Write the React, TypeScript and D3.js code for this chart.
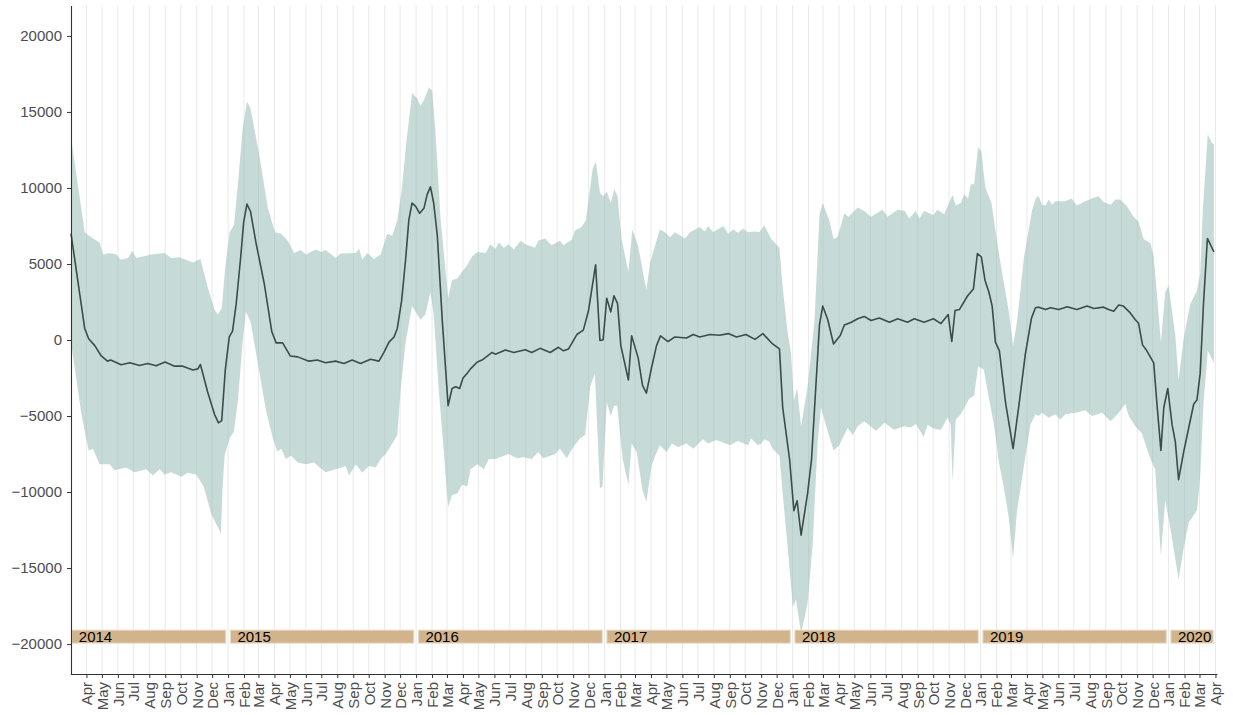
import * as React from 'react'
import * as d3 from 'd3'

// weekly series, x = weeks since 2014-03-02, y = value
const START = new Date(2014, 2, 2)
const END = new Date(2020, 3, 4)

const meanPts: [number, number][] = [
  [0, 7000], [3.8, 760], [4.9, 80], [6.6, -370], [8.4, -1050], [10.1, -1390], [11, -1320], [13.9, -1630], [16.3, -1500],
  [19, -1680], [21.3, -1540], [23.6, -1700], [26.1, -1450], [28.7, -1720], [31, -1720], [33.8, -1970], [35.2, -1900],
  [35.9, -1610], [37.9, -3420], [39.8, -4890], [40.9, -5450], [41.8, -5300], [42.8, -1950], [43.9, 200], [44.8, 580],
  [45.8, 2340], [47, 5280], [47.9, 7770], [48.8, 8940], [49.8, 8450], [51.3, 6410], [53.6, 3700], [55.7, 540],
  [56.9, -190], [58.7, -190], [60.8, -1050], [62.9, -1110],
  [66, -1390], [68.3, -1320], [70.6, -1500], [73.4, -1390], [75.7, -1540], [78, -1320], [80.3, -1540], [83.1, -1270],
  [85.4, -1390], [86.8, -820], [88.2, -140], [89.6, 200], [90.5, 760], [91.7, 2570], [92.8, 5280], [93.7, 7880],
  [94.6, 9010], [95.6, 8790], [96.7, 8330], [97.9, 8670], [98.8, 9580], [99.7, 10070], [100.6, 9010], [101.6, 6860],
  [103, 1210], [104.6, -4320], [105.7, -3190], [106.7, -3080], [107.8, -3190], [108.7, -2520], [109.9, -2180],
  [110.8, -1900], [112.7, -1450], [114, -1320], [116.8, -820], [117.7, -930], [120.5, -660], [122.8, -820], [126, -640],
  [127.8, -820], [130.1, -550], [132.9, -820], [135.2, -480], [136.6, -710], [138, -590], [140.3, 360], [142.1, 650],
  [143.5, 1890], [145.5, 4940], [146.7, -30], [147.6, 20], [148.6, 2750], [149.7, 1850], [150.6, 2910], [151.6, 2390],
  [152.5, -370], [154.6, -2630], [155.5, 270], [157.3, -1160], [158.5, -2970], [159.6, -3490], [161, -1840],
  [162.4, -370], [163.5, 270], [165.6, -100], [167.5, 200], [170.7, 130], [172.6, 360], [174.4, 200], [177.2, 360],
  [179.9, 310], [182.3, 420], [184.6, 200], [187.2, 360], [189.7, 40],
  [191.9, 420], [194.6, -260], [196.5, -590], [197.4, -4440], [199.3, -7830], [200.5, -11220], [201.4, -10580],
  [202.5, -12840], [204.3, -10090], [205.4, -7830], [207.6, 990], [208.5, 2230], [209.9, 1330], [211.5, -260],
  [213.4, 310], [214.5, 990], [216.3, 1150], [218.2, 1400], [220, 1550], [221.9, 1280], [224.2, 1440], [227, 1170],
  [229.3, 1400], [232, 1170], [233.9, 1400], [236.6, 1170], [239.2, 1400], [241.3, 1080], [243.3, 1670], [244.3, -100],
  [245.2, 1940], [246.4, 2000], [248.7, 2910], [250.3, 3360], [251.4, 5690], [252.5, 5460],
  [253.5, 3930], [254.6, 3140], [255.5, 2230], [256.4, -140], [257.5, -710], [259.2, -4100], [261.3, -7150],
  [262.9, -4320], [264.7, -930], [266.4, 1440], [267.5, 2120], [268.4, 2160], [270.3, 2000], [271.7, 2120], [274, 2000],
  [276.3, 2190], [279, 2000], [281.8, 2230], [283.7, 2070], [286.4, 2160], [287.8, 2000], [289.2, 1890], [290.6, 2300],
  [291.9, 2230], [293.8, 1780], [295.2, 1330], [296.1, 1100], [297.2, -320], [298.4, -710], [300.3, -1500],
  [301.2, -4210], [302.3, -7260], [303.1, -4440], [304.2, -3190], [305.4, -5570], [306.3, -6700], [307.2, -9180],
  [308.6, -7370], [310, -5790], [311.4, -4210], [312.3, -3940], [313.2, -2180], [314.1, 2340], [315.2, 6680], [317, 5800],
]

const upperPts: [number, number][] = [
  [0, 13300], [3.8, 7090], [5.2, 6820], [7.9, 6410], [8.9, 5620], [10.7, 5730], [12.6, 5620], [13.8, 5280], [15.8, 5400],
  [17, 5850], [18.1, 5400], [22.3, 5620], [25.9, 5730], [27.8, 5400], [30.1, 5440], [33.8, 5100], [35.9, 5330],
  [37.9, 3470], [39.8, 2000], [40.7, 1670], [41.8, 2070], [42.8, 4830], [44, 7090], [45.2, 7540], [46.3, 10250],
  [47.6, 13870], [48.8, 15680], [49.8, 15230], [52.3, 12060], [54.6, 8670], [56.6, 7090], [58.3, 6980], [60.1, 6530],
  [61.9, 5730],
  [63.7, 5920], [65.1, 5620], [67.9, 5960], [69.3, 5780], [70.6, 5920], [73.4, 5400], [74.8, 5690], [79, 5730],
  [79.9, 6000], [80.8, 5280], [82.2, 5730], [84, 5330], [85.9, 5620], [87.7, 6980], [89.1, 6860], [90.5, 7880],
  [91.7, 9800], [93, 12970], [94.6, 16240], [96, 15900], [96.9, 15410], [97.9, 15790], [99.3, 16630], [100.2, 16360],
  [101.1, 13640], [102.5, 7990], [104.6, 2800], [105.7, 3930], [107.1, 4040], [108.5, 4490], [109.9, 4940],
  [111.3, 5510], [112.7, 5780], [115, 5730], [116.3, 6300], [117.7, 6000], [118.7, 6410], [120, 6070], [121.4, 6300],
  [122.8, 5960], [124.7, 6530],
  [126, 6300], [127.3, 6190], [128.7, 6070], [129.6, 6530], [131.5, 6680], [133.3, 6230], [135.6, 6530], [136.6, 6230],
  [138.9, 6590], [139.8, 7200], [141.6, 7430], [142.8, 7880], [144.7, 11270], [145.6, 11720], [146.7, 9690],
  [147.6, 9460], [148.6, 9760], [149.7, 9010], [150.7, 9920], [151.6, 9460], [152.7, 6640], [154.6, 4490],
  [155.7, 7270], [157.3, 6190], [158.7, 4380], [159.6, 3290], [160.6, 5060], [163.3, 7270], [164.7, 7090],
  [166.1, 6750], [167.5, 7090], [170.3, 6680], [171.7, 7090], [174.4, 7430], [175.8, 7140], [176.7, 7500],
  [178.1, 7090], [180.9, 7500], [182.3, 6980], [183.7, 7270], [185, 7050], [186.4, 7320], [187.8, 7090], [189.7, 7140],
  [190.9, 7090], [192.3, 7540], [194.2, 6640], [196.5, 6070], [197.4, 3470], [198.8, 420], [199.7, -820],
  [200.5, -3980], [201.4, -3190], [202.5, -5680], [204.3, -3080], [206.2, 1210], [207.6, 8220], [208.5, 9010],
  [210.3, 7880], [211.5, 6640], [212.6, 6750], [214.5, 8330], [215.6, 8110], [218.2, 8720], [220, 8490], [221.9, 8110],
  [225.1, 8560], [226.5, 8110], [229.3, 8560], [231.3, 8490], [232.5, 7990], [234.3, 8490], [235.3, 7990],
  [236.6, 8490], [239.2, 8220], [240.3, 8560], [242.2, 8270], [244.5, 9530], [245.4, 8850], [246.8, 9010],
  [247.7, 9580], [248.8, 9310], [249.6, 10250], [250.5, 10250], [251.6, 12700],
  [252.5, 12400], [253.6, 10030], [255.3, 9010], [256.4, 7200], [257.8, 5060], [260.1, 1890], [261.3, -370],
  [262.4, 1210], [264.3, 5400], [266.6, 8560], [267.7, 9350], [268.4, 9460], [269.3, 8900], [270.3, 8850],
  [271.2, 9240], [272.1, 8900], [273, 9120], [275.8, 9120], [277.5, 9310], [279, 8850], [281.3, 9120], [283.7, 9350],
  [285, 9460], [286.4, 9080], [288.3, 8900], [289.7, 9240], [291, 9240], [292.9, 8790], [294.7, 8110], [296.1, 7770],
  [297.5, 6640], [299.4, 6370], [300.3, 5510], [301.2, 3020], [302.3, -140], [303.5, 3140], [304.4, 3590],
  [306.3, 310], [307.2, -2630], [308.6, 80], [310.4, 2340], [312.3, 3250], [313.2, 4380], [313.9, 8450],
  [315.3, 13530], [316.4, 12970], [317, 12850],
]

const lowerPts: [number, number][] = [
  [0, -140], [2.9, -4890], [4.9, -7260], [6.1, -7150], [7.9, -8170], [10.7, -8170], [12.1, -8570], [15.3, -8390],
  [17.6, -8690], [20.9, -8500], [22.7, -8910], [24.6, -8500], [25.9, -8840], [27.8, -8690], [30.6, -9000],
  [32.4, -8730], [34.7, -8840], [36.8, -9630], [38.9, -11440], [40.3, -12120], [41.6, -12690], [42, -9860],
  [42.6, -7600], [44, -6470], [45.2, -6020], [46.3, -3980], [47.6, -140], [48.5, 1850], [49.8, 1210], [51.8, -1500],
  [54.1, -4660], [56, -6470], [57.2, -7330], [58.3, -7150], [59.6, -7830], [61, -7600], [62.9, -8050],
  [65.1, -8170], [67.4, -8050], [70.6, -8690], [73.4, -8500], [76.2, -8280], [77.1, -8910], [79, -8170],
  [80.8, -8730], [82.6, -8280], [84.5, -8390], [85.9, -7830], [87.3, -7490], [89.1, -6810], [90.5, -6240],
  [91.4, -3310], [92.8, -140], [94.6, 2230], [96.9, 1330], [98.3, 1670], [99.7, 3140], [100.6, 1670], [102, -3310],
  [103.4, -7370], [104.6, -10990], [105.7, -10200], [107.1, -10090], [108.5, -9520], [109.9, -9630], [110.8, -8500],
  [112.7, -8170], [114.5, -8500], [115.9, -7830], [117.7, -7830], [121.4, -7490], [123.7, -7780],
  [125.5, -7710], [127.8, -7830], [129.6, -7370], [131, -7780], [134.3, -7490], [135.6, -7150], [137.5, -7780],
  [139.3, -7040], [141.2, -6470], [142.6, -6240], [144, -3080], [145.3, -2180], [146.7, -9750], [147.4, -9630],
  [148.6, -4100], [149.7, -5000], [150.6, -4320], [151.5, -4320], [153, -7830], [154.6, -9520], [155.5, -6810],
  [156.9, -7370], [158.5, -9860], [159.6, -10650], [161, -8280], [161.9, -7710], [163.3, -6920], [165.2, -7370],
  [166.6, -6810], [168.4, -7040], [170.7, -6810], [172.6, -7150], [175.3, -6520], [176.7, -6810], [179, -6580],
  [180.9, -6740], [182.7, -6920], [185, -6650], [187.8, -6920],
  [188.6, -6470], [190.5, -6920], [191.4, -6810], [192.3, -6520], [193.7, -6700], [194.6, -7150], [196.5, -7600],
  [197.4, -10090], [198.8, -13700], [200.2, -17540], [201.1, -17090], [202.5, -19300], [204.3, -17320],
  [205.7, -13480], [207.1, -6700], [208, -4440], [209.9, -6020], [211.5, -7260], [213.1, -6920], [215.4, -5790],
  [216.8, -6240], [218.2, -5680], [220, -5340], [223.3, -5970], [225.6, -5450], [228.3, -5900], [231.1, -5680],
  [232.9, -5750], [234.3, -5520], [236.5, -6360], [237.6, -5570], [239.4, -5840], [241.3, -5900], [243.1, -5110],
  [244, -5570], [244.5, -9300], [245.4, -5230], [246.8, -4890], [249.1, -3870], [250.5, -3650], [251.6, -1720],
  [253.2, -1950], [254.1, -3190], [256, -5570], [257.3, -7940], [258.7, -9630], [260.1, -11670], [261.3, -14380],
  [262.4, -11220], [264.3, -8280], [266.1, -5570], [267.5, -4890], [268.4, -5000], [269.3, -4780], [271.2, -5110],
  [273, -4890], [274.4, -5230], [275.8, -4890], [278.6, -4780], [281.3, -4620], [283.2, -5000], [286, -4780],
  [288.3, -5340], [290.6, -4780], [292.4, -4210], [293.4, -5000], [295.2, -5680], [297, -6130], [299.4, -7830],
  [300.7, -8500], [302.3, -14150], [303.5, -10540], [304.9, -12350], [307.2, -15740], [308.6, -13700],
  [310, -12010], [312.3, -11220], [313.2, -8960], [314.1, -4210], [315.3, -710], [317, -1500],
]

const years = [2014, 2015, 2016, 2017, 2018, 2019, 2020]
const yTicks = [-20000, -15000, -10000, -5000, 0, 5000, 10000, 15000, 20000]

const weekDate = (w: number) => new Date(START.getTime() + w * 7 * 864e5)

export default class App extends React.Component<{}, {}> {
  private node: SVGSVGElement | null = null
  private width = 1233
  private height = 715
  private margin = { left: 71, top: 5, right: 16, bottom: 41 }

  componentDidMount() {
    this.draw()
  }

  componentDidUpdate() {
    this.draw()
  }

  private draw(): void {
    if (!this.node) return
    const svg = d3.select(this.node)
    svg.selectAll('*').remove()

    const font = '"Liberation Sans", Arial, Helvetica, sans-serif'
    const left = this.margin.left
    const right = this.width - this.margin.right
    const top = this.margin.top
    const bottom = this.height - this.margin.bottom

    const x = d3.scaleTime().domain([START, END]).range([left, right])
    const y = d3.scaleLinear().domain([-22000, 22000]).range([bottom + 0.5, top + 0.5])

    const months = d3.timeMonth.range(d3.timeMonth.ceil(START), END)

    // vertical month grid
    svg.append('g')
      .selectAll('line')
      .data(months)
      .enter().append('line')
      .attr('x1', d => x(d))
      .attr('x2', d => x(d))
      .attr('y1', top)
      .attr('y2', bottom)
      .attr('stroke', '#ebebeb')
      .attr('stroke-width', 1.1)

    // ribbon: upper forward, lower back
    const poly = upperPts.concat(lowerPts.slice().reverse())
    const ribbon = d3.line<[number, number]>()
      .x(d => x(weekDate(d[0])))
      .y(d => y(d[1]))
    svg.append('path')
      .attr('d', ribbon(poly) + 'Z')
      .attr('fill', '#8db7af')
      .attr('fill-opacity', 0.5)
      .attr('stroke', 'none')

    // mean line
    svg.append('path')
      .datum(meanPts)
      .attr('d', ribbon)
      .attr('fill', 'none')
      .attr('stroke', '#3c4c49')
      .attr('stroke-width', 1.6)
      .attr('stroke-linejoin', 'round')

    // year bands
    const bandTop = y(-19080)
    const bandBottom = y(-19940)
    const bands = svg.append('g')
    years.forEach((yr, i) => {
      const s = new Date(yr, 0, 1) < START ? START : new Date(yr, 0, 1)
      const e = new Date(yr, 11, 31) > new Date(2020, 3, 1) ? new Date(2020, 3, 1) : new Date(yr + 1, 0, 1)
      const x0 = i === 0 ? x(s) + 0.8 : x(s) + 2.3
      const x1 = x(e) - 2.3
      bands.append('rect')
        .attr('x', x0)
        .attr('y', bandTop)
        .attr('width', x1 - x0)
        .attr('height', bandBottom - bandTop)
        .attr('fill', '#d2b48c')
        .attr('stroke', '#e9dccb')
        .attr('stroke-width', 1)
      bands.append('text')
        .attr('x', x0 + 7)
        .attr('y', (bandTop + bandBottom) / 2)
        .attr('dy', '0.36em')
        .attr('font-family', font)
        .attr('font-size', 15)
        .attr('fill', '#000')
        .text(String(yr))
    })

    // y axis
    const yAxis = svg.append('g')
      .attr('transform', `translate(${left},0)`)
      .call(d3.axisLeft(y)
        .tickValues(yTicks)
        .tickSize(4)
        .tickSizeOuter(0)
        .tickPadding(5)
        .tickFormat(d => (+d < 0 ? '\u2212' + Math.abs(+d) : String(d))))
    yAxis.select('.domain').attr('stroke', '#333').attr('stroke-width', 1.1)
    yAxis.selectAll('.tick line').attr('stroke', '#333')
    yAxis.selectAll('text').attr('font-family', font).attr('font-size', 15).attr('fill', '#4d4d4d')

    // x axis
    const xAxis = svg.append('g')
      .attr('transform', `translate(0,${bottom})`)
      .call(d3.axisBottom(x)
        .tickValues(months)
        .tickSize(4)
        .tickSizeOuter(0)
        .tickFormat(d => d3.timeFormat('%b')(d as Date)))
    xAxis.select('.domain').attr('stroke', '#333').attr('stroke-width', 1.1)
    xAxis.selectAll('.tick line').attr('stroke', '#333')
    xAxis.selectAll('text')
      .attr('font-family', font)
      .attr('font-size', 15)
      .attr('fill', '#4d4d4d')
      .attr('transform', 'rotate(-90)')
      .attr('text-anchor', 'end')
      .attr('x', -8)
      .attr('y', 0)
      .attr('dy', '0.36em')
  }

  render() {
    return (
      <svg
        width={this.width}
        height={this.height}
        style={{ position: 'absolute', left: 0, top: 0, background: '#fff' }}
        ref={node => { this.node = node }} />
    )
  }
}
